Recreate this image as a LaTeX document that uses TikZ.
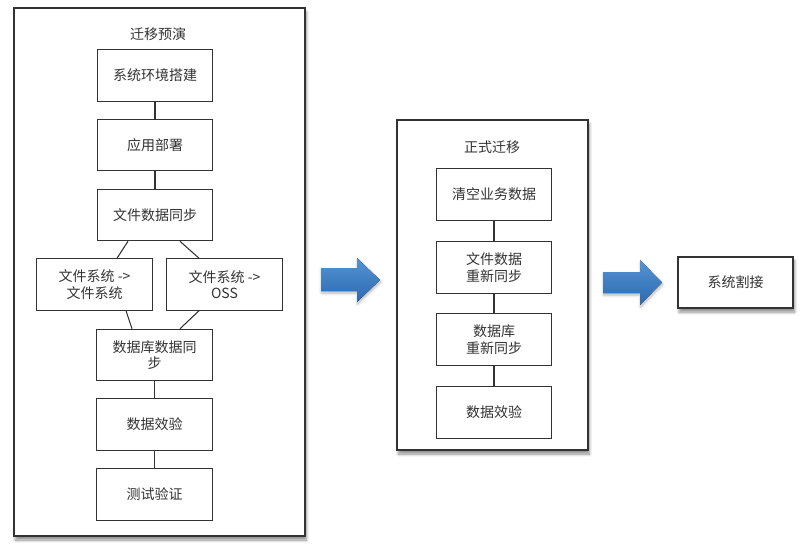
\documentclass[tikz,border=0pt]{standalone}
\usepackage{fontspec}
\setmainfont{Noto Sans CJK SC}
\usetikzlibrary{calc,shadows.blur}
\definecolor{ink}{HTML}{333333}
\definecolor{arrowtop}{RGB}{84,148,212}
\definecolor{arrowbot}{RGB}{44,104,176}
\tikzset{
  stepbox/.style={draw=ink, line width=0.9pt, fill=white, minimum width=86.5pt, minimum height=38.5pt,
    inner sep=0pt, align=center, font=\fontsize{10.5}{12.5}\selectfont, text=ink},
  frame/.style={draw=ink, line width=1.1pt, fill=white,
    blur shadow={shadow xshift=1pt, shadow yshift=-3pt, shadow blur steps=8, shadow opacity=45}},
  ttl/.style={font=\fontsize{10.5}{12.5}\selectfont, text=ink},
  link/.style={draw=ink, line width=0.8pt},
  bigarrow/.style={top color=arrowtop, bottom color=arrowbot, draw=none,
    blur shadow={shadow xshift=0.5pt, shadow yshift=-1.5pt, shadow blur steps=5, shadow opacity=30}}
}
\begin{document}
\begin{tikzpicture}[x=0.75pt,y=-0.75pt]
\useasboundingbox (0,0) rectangle (806,554);
% outer frames
\draw[frame] (14,8) rectangle (305,536);
\draw[frame] (397,120) rectangle (588,450);
% titles
\node[ttl] (t1) at (158,34) {迁移预演};
\node[ttl] (t2) at (492,147) {正式迁移};
% column 1
\node[stepbox] (env) at (155,75.5) {系统环境搭建};
\node[stepbox] (app) at (155,145) {应用部署};
\node[stepbox] (fsync) at (155,215) {文件数据同步};
\node[stepbox] (fs1) at (94.5,284.5) {文件系统 ->\\文件系统};
\node[stepbox] (fs2) at (224.5,284.5) {文件系统 ->\\OSS};
\node[stepbox] (dbsync) at (154.5,355) {数据库数据同\\步};
\node[stepbox] (chk1) at (154.5,424.5) {数据效验};
\node[stepbox] (test) at (154.5,494.5) {测试验证};
\draw[link] (env) -- (app);
\draw[link] (app) -- (fsync);
\draw[link] ($(fsync.south)+(-27,0)$) -- ($(fs1.north)+(22.5,0)$);
\draw[link] ($(fsync.south)+(25,0)$) -- ($(fs2.north)+(-25.5,0)$);
\draw[link] ($(fs1.south)+(31.5,0)$) -- ($(dbsync.north)+(-22.5,0)$);
\draw[link] ($(fs2.south)+(-25.5,0)$) -- ($(dbsync.north)+(25.5,0)$);
\draw[link] (dbsync) -- (chk1);
\draw[link] (chk1) -- (test);
% column 2
\node[stepbox] (clear) at (494,194.5) {清空业务数据};
\node[stepbox] (fresync) at (494,267.5) {文件数据\\重新同步};
\node[stepbox] (dbresync) at (494,339.5) {数据库\\重新同步};
\node[stepbox] (chk2) at (494,412.5) {数据效验};
\draw[link] (clear) -- (fresync);
\draw[link] (fresync) -- (dbresync);
\draw[link] (dbresync) -- (chk2);
% final box
\node[stepbox, line width=1.1pt, blur shadow={shadow xshift=1pt, shadow yshift=-3pt, shadow blur steps=8, shadow opacity=45}] (cut) at (735.5,282.5) {系统割接};
% big arrows
\fill[bigarrow] (321,268) -- (357,268) -- (357,258) -- (380,280) -- (357,302) -- (357,291) -- (321,291) -- cycle;
\fill[bigarrow] (603,272) -- (640,272) -- (640,260) -- (662,282.5) -- (640,305) -- (640,293) -- (603,293) -- cycle;
\end{tikzpicture}
\end{document}
